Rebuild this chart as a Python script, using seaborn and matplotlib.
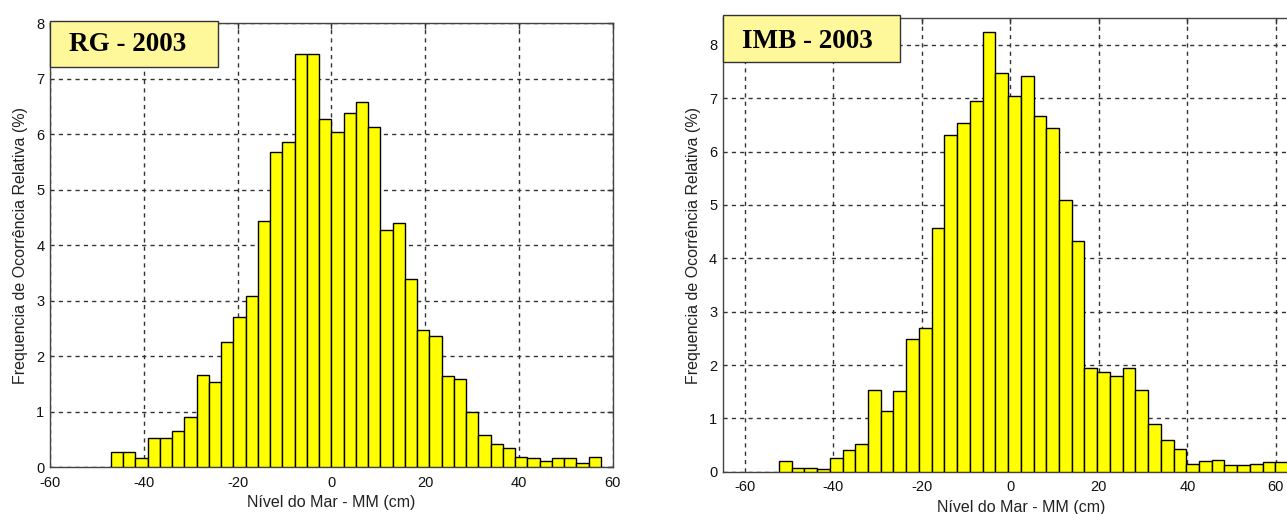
import numpy as np
import pandas as pd
import matplotlib
matplotlib.use("Agg")
import matplotlib.pyplot as plt
import seaborn as sns
from matplotlib.patches import Rectangle

# RG - 2003: 40 bins
rg_bin_start = -47.0
rg_bin_width = 2.6125
rg_freq = [0.28, 0.28, 0.16, 0.53, 0.53, 0.65, 0.91, 1.66, 1.54, 2.25,
           2.71, 3.09, 4.43, 5.69, 5.86, 7.45, 7.45, 6.28, 6.04, 6.39,
           6.58, 6.13, 4.28, 4.40, 3.40, 2.48, 2.36, 1.64, 1.59, 1.00,
           0.58, 0.42, 0.35, 0.19, 0.16, 0.11, 0.16, 0.16, 0.08, 0.19]

# IMB - 2003: 40 bins
imb_bin_start = -52.3
imb_bin_width = 2.877
imb_freq = [0.20, 0.075, 0.075, 0.05, 0.25, 0.40, 0.52, 1.54, 1.14, 1.52,
            2.48, 2.70, 4.57, 6.31, 6.53, 6.95, 8.24, 7.47, 7.05, 7.42,
            6.67, 6.45, 5.09, 4.33, 1.94, 1.86, 1.79, 1.94, 1.54, 0.90,
            0.60, 0.43, 0.15, 0.20, 0.22, 0.125, 0.125, 0.15, 0.175, 0.175]

x_ticks = [-60, -40, -20, 0, 20, 40, 60]
xlabel = "Nível do Mar - MM (cm)"
ylabel = "Frequencia de Ocorrência Relativa (%)"

sns.set_style("white")
plt.rcParams['font.family'] = ['Liberation Sans', 'DejaVu Sans']
plt.rcParams['axes.unicode_minus'] = False

fig = plt.figure(figsize=(12.87, 5.14), dpi=100)

panels = [
    # title, start, width, freqs, axes rect, xlim, ylim, yticks, title box, text pos
    ("RG - 2003", rg_bin_start, rg_bin_width, rg_freq,
     [50 / 1287, 46.7 / 514, 562.7 / 1287, 444 / 514], (-60, 60), (0, 8),
     range(0, 9), (0.298, 0.902, 1.006), (0.138, 0.953)),
    ("IMB - 2003", imb_bin_start, imb_bin_width, imb_freq,
     [722.7 / 1287, 42.3 / 514, 597.4 / 1287, 453.4 / 514], (-65, 70), (0, 8.5),
     range(0, 9), (0.297, 0.904, 1.007), (0.142, 0.948)),
]

for title, start, width, freq, rect, xlim, ylim, yticks, box, tpos in panels:
    ax = fig.add_axes(rect)
    n = len(freq)
    edges = [float(start + width * i) for i in range(n + 1)]
    df = pd.DataFrame({
        "nivel": [(edges[i] + edges[i + 1]) / 2 for i in range(n)],
        "freq": freq,
    })
    sns.histplot(data=df, x="nivel", weights="freq", bins=edges, stat="count",
                 color="#FFFF00", edgecolor="black", linewidth=1.0,
                 alpha=1.0, ax=ax, zorder=3)
    ax.set_xlim(*xlim)
    ax.set_ylim(*ylim)
    ax.set_xticks(x_ticks)
    ax.set_yticks(list(yticks))
    ax.set_axisbelow(True)
    ax.grid(True, color="#333333", linestyle=(0, (3, 3)), linewidth=1.0)
    ax.tick_params(direction="in", length=4, width=1, colors="#333333",
                   top=True, right=True, labelsize=10.5, labelcolor="#111111")
    ax.tick_params(axis="x", pad=6)
    ax.tick_params(axis="y", pad=4)
    for s in ax.spines.values():
        s.set_color("#444444")
        s.set_linewidth(1.0)
    ax.set_xlabel(xlabel, fontsize=11.5, color="#222222", labelpad=4)
    ax.set_ylabel(ylabel, fontsize=11.5, color="#222222", labelpad=6)

    w, y0, y1 = box
    ax.add_patch(Rectangle((0, y0), w, y1 - y0, transform=ax.transAxes,
                           facecolor="#FFF89A", edgecolor="#333333",
                           linewidth=1.0, clip_on=False, zorder=10))
    ax.text(tpos[0], tpos[1], title, transform=ax.transAxes,
            ha="center", va="center", fontsize=19.5, fontweight="bold",
            color="black", family=["Liberation Serif", "DejaVu Serif"], zorder=11)

fig.savefig("out.png", dpi=100, facecolor="white")
